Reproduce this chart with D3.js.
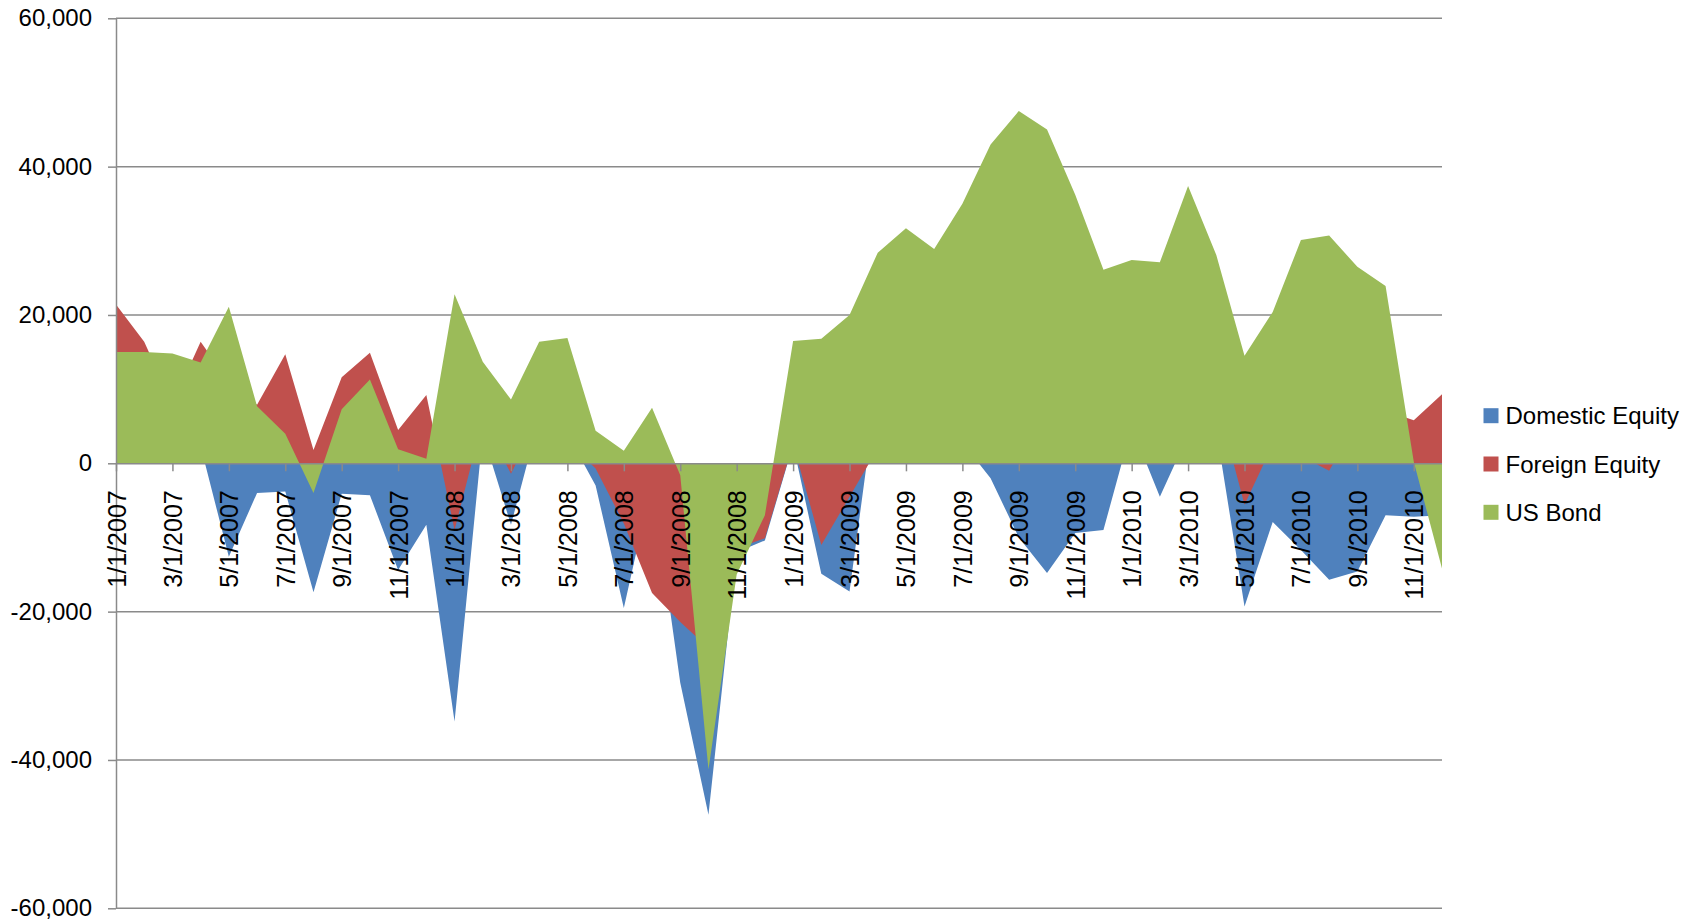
<!DOCTYPE html>
<html>
<head>
<meta charset="utf-8">
<script src="https://cdn.jsdelivr.net/npm/d3@7"></script>
<style>
  body { margin: 0; background: #fff; }
  svg { display: block; }
  text { font-family: "Liberation Sans", Arial, sans-serif; fill: #000; }
</style>
</head>
<body>
<svg id="chart" width="1696" height="922"></svg>
<script>
// Monthly fund flows, Jan 2007 - Dec 2010
const months = [
  "1/1/2007","2/1/2007","3/1/2007","4/1/2007","5/1/2007","6/1/2007",
  "7/1/2007","8/1/2007","9/1/2007","10/1/2007","11/1/2007","12/1/2007",
  "1/1/2008","2/1/2008","3/1/2008","4/1/2008","5/1/2008","6/1/2008",
  "7/1/2008","8/1/2008","9/1/2008","10/1/2008","11/1/2008","12/1/2008",
  "1/1/2009","2/1/2009","3/1/2009","4/1/2009","5/1/2009","6/1/2009",
  "7/1/2009","8/1/2009","9/1/2009","10/1/2009","11/1/2009","12/1/2009",
  "1/1/2010","2/1/2010","3/1/2010","4/1/2010","5/1/2010","6/1/2010",
  "7/1/2010","8/1/2010","9/1/2010","10/1/2010","11/1/2010","12/1/2010"
];

const domesticEquity = [
  3000, 2000, 2500, 2300, -12600, -4000, -3800, -17400, -4100, -4300, -14400, -8300,
  -34800, 4000, -8300, 6100, 4000, -3000, -19500, -2500, -29600, -47400, -12000, -10400,
  2500, -14900, -17300, 11000, 5000, 3000, 2800, -2000, -10000, -14800, -9400, -9000,
  4900, -4500, 3800, 4500, -19300, -7900, -11700, -15700, -14600, -7000, -7200, -7000
];

const foreignEquity = [
  21400, 16400, 8000, 16400, 11000, 7900, 14700, 1800, 11600, 14900, 4500, 9200,
  -9000, 5900, -1400, 6200, 3000, -700, -8100, -17500, -21400, -24900, -11500, -10100,
  2600, -11000, -4500, 2000, 4000, 5000, 3500, 6000, 4500, 5500, 3000, 4000,
  6000, 3500, 5000, 8800, -5600, 2500, 1000, -1000, 5600, 7100, 5800, 9300
];

const usBond = [
  15000, 15000, 14800, 13600, 21100, 7700, 4000, -4000, 7300, 11300, 1900, 600,
  22800, 13700, 8600, 16400, 16900, 4400, 1700, 7500, -1600, -41300, -15000, -7000,
  16500, 16800, 20000, 28400, 31700, 28900, 35000, 43000, 47500, 45000, 36200, 26100,
  27400, 27100, 37400, 28100, 14500, 20400, 30100, 30700, 26500, 23900, 200, -14200
];

const yTicks = [-60000, -40000, -20000, 0, 20000, 40000, 60000];
const seriesNames = ["Domestic Equity", "Foreign Equity", "US Bond"];
const seriesColors = ["#4F81BD", "#C0504D", "#9BBB59"];

const svg = d3.select("#chart");
const plot = { left: 116, right: 1442, top: 18.3, bottom: 908.3 };

const x = d3.scalePoint().domain(months).range([plot.left, plot.right]);
const y = d3.scaleLinear().domain([-60000, 60000]).range([plot.bottom, plot.top]);

const gridColor = "#8a8a8a";

// Horizontal gridlines (behind the areas)
svg.append("g")
  .selectAll("line")
  .data(yTicks.filter(d => d !== 0))
  .join("line")
  .attr("x1", plot.left).attr("x2", plot.right)
  .attr("y1", d => y(d)).attr("y2", d => y(d))
  .attr("stroke", gridColor).attr("stroke-width", 1.5);

// Overlapping areas, drawn in series order
const series = [domesticEquity, foreignEquity, usBond];
const area = d3.area()
  .x((d, i) => x(months[i]))
  .y0(y(0))
  .y1(d => y(d))
  .curve(d3.curveLinear);

svg.append("g")
  .selectAll("path")
  .data(series)
  .join("path")
  .attr("d", d => area(d))
  .attr("fill", (d, i) => seriesColors[i]);

// Y axis
const yAxis = d3.axisLeft(y)
  .tickValues(yTicks)
  .tickSize(8)
  .tickPadding(16)
  .tickFormat(d => d3.format(",")(d).replace("\u2212", "-"));

const gy = svg.append("g")
  .attr("transform", `translate(${plot.left},0)`)
  .call(yAxis);
gy.select(".domain").attr("stroke", gridColor).attr("stroke-width", 1.5)
  .attr("d", `M0.5,${plot.top}V${plot.bottom}`);
gy.selectAll(".tick line").attr("stroke", gridColor).attr("stroke-width", 1.5);
gy.selectAll(".tick text")
  .attr("font-size", 24)
  .attr("font-family", "Liberation Sans, Arial, sans-serif")
  .attr("fill", "#000");

// X axis along zero, ticks every second month
const labelled = months.filter((d, i) => i % 2 === 0);
const xAxis = d3.axisBottom(x)
  .tickValues(labelled)
  .tickSize(8)
  .tickPadding(0)
  .tickSizeOuter(0);

const gx = svg.append("g")
  .attr("transform", `translate(0,${y(0)})`)
  .call(xAxis);
gx.select(".domain").attr("stroke", gridColor).attr("stroke-width", 1.5)
  .attr("d", `M${plot.left},0.5H${plot.right}`);
gx.selectAll(".tick line").attr("stroke", gridColor).attr("stroke-width", 1.5);
gx.selectAll(".tick text")
  .attr("font-size", 25)
  .attr("font-family", "Liberation Sans, Arial, sans-serif")
  .attr("fill", "#000")
  .attr("text-anchor", "end")
  .attr("transform", "translate(0,27) rotate(-90)")
  .attr("x", 0).attr("y", 0).attr("dy", "0.36em");

// Legend
const legend = svg.append("g");
seriesNames.forEach((name, i) => {
  const cy = 415.7 + i * 48.3;
  legend.append("rect")
    .attr("x", 1483.5).attr("y", cy - 7.5)
    .attr("width", 15).attr("height", 15)
    .attr("fill", seriesColors[i]);
  legend.append("text")
    .attr("x", 1505.5).attr("y", cy)
    .attr("dy", "0.36em")
    .attr("font-size", 24)
    .text(name);
});
</script>
</body>
</html>
